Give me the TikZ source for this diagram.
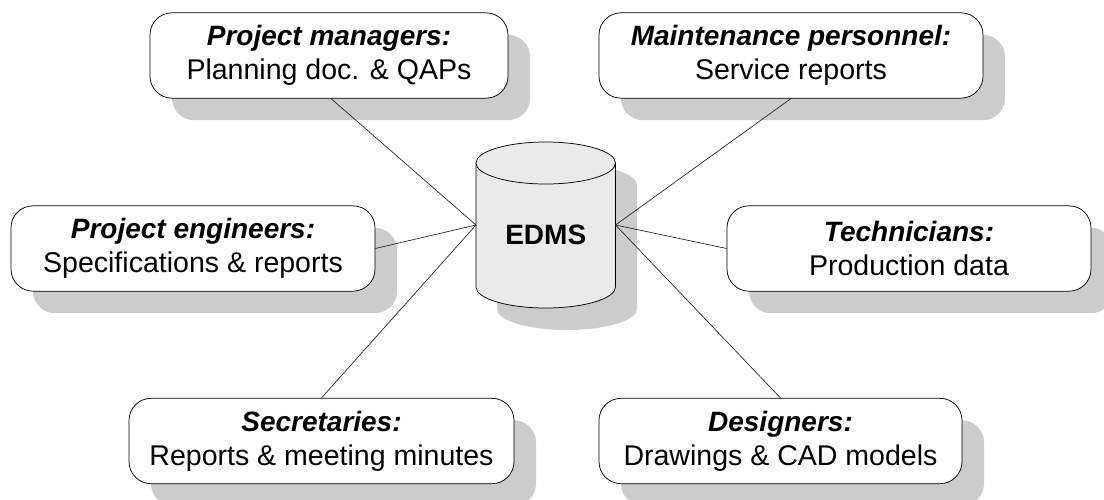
\documentclass[tikz,border=0pt]{standalone}
\usepackage{fontspec}
\setmainfont{Liberation Sans}
\definecolor{shadowgray}{HTML}{CCCCCC}
\definecolor{cylgray}{HTML}{EAEAEA}
\definecolor{linegray}{HTML}{222222}
\tikzset{
  x=0.75pt,y=-0.75pt,
  conn/.style={draw=linegray,line width=0.5pt},
  boxbase/.style={rounded corners=16.5pt,minimum height=64pt,inner sep=0pt,align=center,font=\fontsize{21.4}{25.5}\selectfont},
  card/.style={boxbase,draw=black,line width=0.55pt,fill=white},
  cardshadow/.style={boxbase,fill=shadowgray,draw=none},
  cyl/.style={draw=black,line width=0.55pt,fill=cylgray},
}
\newcommand{\cardshadowat}[3]{\node[cardshadow,minimum width=#3*0.75pt] at (#1+22,#2+22) {};}
\newcommand{\cardtitle}[1]{{\fontsize{21}{25.5}\selectfont\textbf{\textit{#1}}}}
\begin{document}
\begin{tikzpicture}
\path[use as bounding box] (0,0) rectangle (1104,500);
\clip (0,0) rectangle (1104,500);
% shadows
\cardshadowat{329}{55.5}{358}
\cardshadowat{791}{55.5}{384}
\cardshadowat{193}{248.5}{364}
\cardshadowat{909}{248.5}{364}
\cardshadowat{321.5}{441}{385}
\cardshadowat{780.5}{441}{363}
% cylinder shadow
\fill[shadowgray] (497,185) arc[x radius=70,y radius=21,start angle=180,end angle=360] -- (637,309) arc[x radius=70,y radius=21,start angle=0,end angle=180] -- cycle;
% cylinder
\coordinate (edmsW) at (476,225);
\coordinate (edmsE) at (615.5,225);
\path[cyl] (476,163) -- (476,287) arc[x radius=69.75,y radius=21,start angle=180,end angle=0] -- (615.5,163) arc[x radius=69.75,y radius=21,start angle=0,end angle=-180] -- cycle;
\draw[cyl] (476,163) arc[x radius=69.75,y radius=21,start angle=180,end angle=0];
\node[font=\fontsize{21}{25}\selectfont\bfseries,inner sep=0pt,anchor=base] (edms) at (545.75,244) {EDMS};
% cards
\node[card,minimum width=268.5pt] (pm) at (329,55.5) {\cardtitle{Project managers:}\\Planning doc. \& QAPs};
\node[card,minimum width=288pt] (mp) at (791,55.5) {\cardtitle{Maintenance personnel:}\\Service reports};
\node[card,minimum width=273pt] (pe) at (193,248.5) {\cardtitle{Project engineers:}\\Specifications \& reports};
\node[card,minimum width=273pt] (te) at (909,248.5) {\cardtitle{Technicians:}\\Production data};
\node[card,minimum width=288.75pt] (se) at (321.5,441) {\cardtitle{Secretaries:}\\Reports \& meeting minutes};
\node[card,minimum width=272.25pt] (de) at (780.5,441) {\cardtitle{Designers:}\\Drawings \& CAD models};
% connectors
\draw[conn] (edmsW) -- ([xshift=1.5pt]pm.south);
\draw[conn] (edmsE) -- (mp.south);
\draw[conn] (edmsW) -- (pe.east);
\draw[conn] (edmsE) -- (te.west);
\draw[conn] (edmsW) -- (se.north);
\draw[conn] (edmsE) -- (de.north);
\end{tikzpicture}
\end{document}
